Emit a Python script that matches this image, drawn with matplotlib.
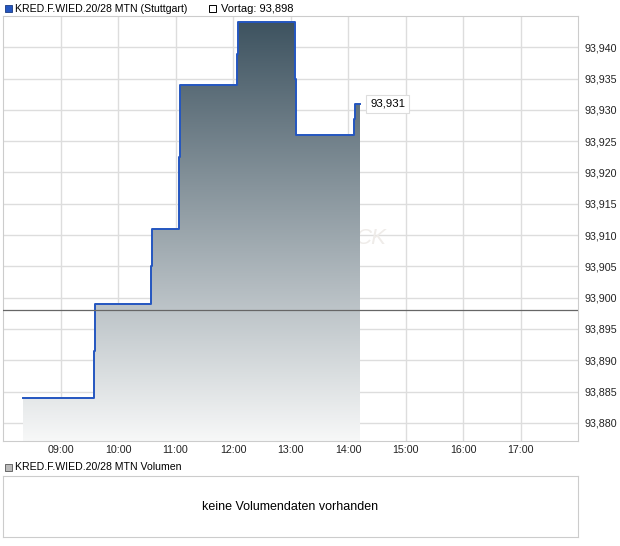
import matplotlib
matplotlib.use('Agg')
import matplotlib.pyplot as plt
import numpy as np
from matplotlib.colors import LinearSegmentedColormap
from matplotlib.patches import Rectangle

plt.rcParams['font.family'] = ['Liberation Sans', 'DejaVu Sans']

# kurs daten (uhrzeit, preis)
zeiten = ["08:21", "09:35", "09:36", "10:34", "10:35", "11:04", "11:05",
          "12:04", "12:05", "13:05", "13:06", "14:06", "14:07", "14:13"]
preise = [93.884, 93.8915, 93.899, 93.905, 93.911, 93.9225, 93.934,
          93.939, 93.944, 93.935, 93.926, 93.9285, 93.931, 93.931]
vortag = 93.898
x_ticks = ["09:00", "10:00", "11:00", "12:00", "13:00", "14:00", "15:00", "16:00", "17:00"]
y_ticks = [93.880, 93.885, 93.890, 93.895, 93.900, 93.905, 93.910,
           93.915, 93.920, 93.925, 93.930, 93.935, 93.940]

def stunde(s):
    h, m = s.split(':')
    return int(h) + int(m) / 60

x = np.array([stunde(z) for z in zeiten])
y = np.array(preise)

def de(v):
    return f"{v:.3f}".replace('.', ',')

fig = plt.figure(figsize=(6.2, 5.46), dpi=100)
ax = fig.add_axes([3/620, 1-441/546, 575/620, 425/546])
ymin, ymax = 93.8771, 93.945
ax.set_xlim(8.0, 18.0)
ax.set_ylim(ymin, ymax)

# gitter
ax.set_xticks([stunde(t) for t in x_ticks])
ax.set_xticklabels(x_ticks)
ax.set_yticks(y_ticks)
ax.set_yticklabels([de(v) for v in y_ticks])
ax.grid(True, color='#dddddd', linewidth=1)
ax.set_axisbelow(True)
ax.yaxis.tick_right()
ax.tick_params(length=0, labelsize=7.7, colors='#222222')
ax.tick_params(axis='y', pad=5)
ax.tick_params(axis='x', pad=3)
for s in ax.spines.values():
    s.set_color('#cccccc')

# wasserzeichen
ax.text(stunde("14:40"), 93.9095, "CK", fontsize=16, style='italic', color='#efece9',
        ha='right', va='center', zorder=1)

# verlauf fuellung
poly = ax.fill_between(x, y, ymin, step='post', color='none', linewidth=0)
cmap = LinearSegmentedColormap.from_list('g', ['#f7f8f8', '#3e5360'])
grad = np.linspace(0, 1, 256).reshape(-1, 1)
im = ax.imshow(grad, cmap=cmap, aspect='auto', origin='lower',
               extent=[x[0], x[-1], ymin, y.max()], zorder=2)
im.set_clip_path(poly.get_paths()[0], transform=ax.transData)
ax.set_xlim(8.0, 18.0)
ax.set_ylim(ymin, ymax)

ax.plot(x, y, drawstyle='steps-post', color='#2456c0', linewidth=1.4, zorder=3)
ax.axhline(vortag, color='#666666', linewidth=0.9, zorder=4)

ax.annotate(de(y[-1]), xy=(x[-1], y[-1]), xytext=(7, 0), textcoords='offset points',
            fontsize=8.2, va='center', ha='left', annotation_clip=False,
            bbox=dict(boxstyle='square,pad=0.35', fc='white', ec='#dddddd', lw=0.8), zorder=5)

# legende oben
fig.patches.append(Rectangle((5/620, 1-12/546), 7/620, 7/546, transform=fig.transFigure,
                             fc='#2456c0', ec='#1a3a80', lw=0.6))
fig.text(15/620, 1-8.5/546, "KRED.F.WIED.20/28 MTN (Stuttgart)", fontsize=7.6, va='center')
fig.patches.append(Rectangle((209/620, 1-12/546), 7/620, 7/546, transform=fig.transFigure,
                             fc='white', ec='black', lw=0.7))
fig.text(221/620, 1-8.5/546, "Vortag: " + de(vortag), fontsize=8.0, va='center')

# volumen bereich
fig.patches.append(Rectangle((5/620, 1-471/546), 7/620, 7/546, transform=fig.transFigure,
                             fc='#bbbbbb', ec='#555555', lw=0.6))
fig.text(15/620, 1-467.5/546, "KRED.F.WIED.20/28 MTN Volumen", fontsize=7.6, va='center')
ax2 = fig.add_axes([3/620, 1-537/546, 575/620, 61/546])
ax2.set_xticks([])
ax2.set_yticks([])
for s in ax2.spines.values():
    s.set_color('#cccccc')
ax2.text(0.5, 0.5, "keine Volumendaten vorhanden", transform=ax2.transAxes,
         ha='center', va='center', fontsize=9.0)

plt.savefig('out.png', dpi=100)
